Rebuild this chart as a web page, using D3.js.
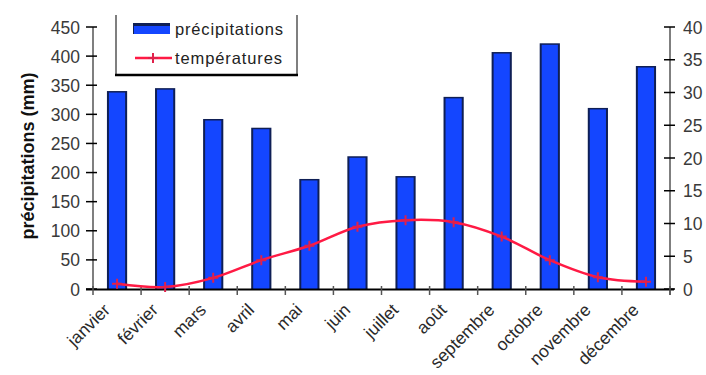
<!DOCTYPE html>
<html><head><meta charset="utf-8">
<script src="https://cdn.jsdelivr.net/npm/d3@7"></script>
<style>body{margin:0;background:#fff}svg{display:block}text{font-family:"Liberation Sans",Arial,sans-serif}</style>
</head><body><svg id="c" width="706" height="375"></svg>
<script>
const months = ["janvier","février","mars","avril","mai","juin","juillet","août","septembre","octobre","novembre","décembre"];
const precipitations = [340,345,292,277,189,228,194,330,407,422,311,383];
const temperatures = [0.8,0.3,1.7,4.4,6.6,9.5,10.5,10.2,8.0,4.4,1.8,1.1];
const leftTicks = [0,50,100,150,200,250,300,350,400,450];
const rightTicks = [0,5,10,15,20,25,30,35,40];

const svg = d3.select("#c");
const x0 = 93, x1 = 670, yTop = 27, yBot = 289;
const x = d3.scaleBand().domain(months).range([x0, x1]).paddingInner(0.58).paddingOuter(0.29);
const xc = d => x(d) + x.bandwidth()/2;
const yL = d3.scaleLinear().domain([0,450]).range([yBot, yTop]);
const yR = d3.scaleLinear().domain([0,40]).range([yBot, yTop]);

// bars
svg.append("g").selectAll("g").data(months).join("g").each(function(m,i){
  const g = d3.select(this);
  const bx = x(m), bw = x.bandwidth(), by = yL(precipitations[i]);
  g.append("rect").attr("x",bx).attr("y",by).attr("width",bw).attr("height",yBot-by).attr("fill","#0f1f55");
  g.append("rect").attr("x",bx+2).attr("y",by+1.5).attr("width",bw-4).attr("height",yBot-by-1.5).attr("fill","#1446ff");
});

// left axis
const gl = svg.append("g");
gl.append("line").attr("x1",x0).attr("x2",x0).attr("y1",yTop).attr("y2",yBot).attr("stroke","#555").attr("stroke-width",1.5);
gl.selectAll("line.t").data(leftTicks).join("line").attr("class","t")
  .attr("x1",x0-7).attr("x2",x0+4).attr("y1",d=>yL(d)).attr("y2",d=>yL(d)).attr("stroke","#000").attr("stroke-width",1.5);
gl.selectAll("text").data(leftTicks).join("text").attr("x",80).attr("y",d=>yL(d)+6.5)
  .attr("text-anchor","end").attr("font-size",17.5).attr("fill","#3a3a3a").text(d=>d);

// right axis
const gr = svg.append("g");
gr.append("line").attr("x1",x1).attr("x2",x1).attr("y1",yTop).attr("y2",yBot+6).attr("stroke","#555").attr("stroke-width",1.5);
gr.selectAll("line.t").data(rightTicks).join("line").attr("class","t")
  .attr("x1",x1-6).attr("x2",x1+5).attr("y1",d=>yR(d)).attr("y2",d=>yR(d)).attr("stroke","#000").attr("stroke-width",1.5);
gr.selectAll("text").data(rightTicks).join("text").attr("x",683).attr("y",d=>yR(d)+6.5)
  .attr("text-anchor","start").attr("font-size",17.5).attr("fill","#3a3a3a").text(d=>d);

// bottom axis
const gb = svg.append("g");
gb.append("line").attr("x1",x0-7).attr("x2",x1+4).attr("y1",yBot+0.5).attr("y2",yBot+0.5).attr("stroke","#000").attr("stroke-width",2);
const bounds = months.map(m => x(m) - x.step()*x.paddingInner()/2 ).concat([x1]);
gb.selectAll("line.t").data(bounds).join("line").attr("class","t")
  .attr("x1",d=>d).attr("x2",d=>d).attr("y1",yBot-3).attr("y2",yBot+6).attr("stroke","#555").attr("stroke-width",1.5);
gb.selectAll("text").data(months).join("text")
  .attr("transform",d=>`translate(${xc(d)-6},${yBot+22}) rotate(-45)`)
  .attr("text-anchor","end").attr("font-size",17.5).attr("fill","#2a2a2a").text(d=>d);

// temperature line
const line = d3.line().x((d,i)=>xc(months[i])).y(d=>yR(d)).curve(d3.curveCatmullRom);
svg.append("path").attr("d",line(temperatures)).attr("fill","none").attr("stroke","#ff1a44").attr("stroke-width",2.5);
svg.append("g").selectAll("path").data(temperatures).join("path")
  .attr("d",(d,i)=>{const cx=xc(months[i]),cy=yR(d);return `M${cx-5},${cy}H${cx+5}M${cx},${cy-5}V${cy+5}`;})
  .attr("stroke","#e0204a").attr("stroke-width",2);

// axis title
svg.append("text").attr("transform","translate(34,156) rotate(-90)").attr("text-anchor","middle")
  .attr("font-size",18).attr("font-weight","bold").attr("fill","#111").text("précipitations (mm)");

// legend
const lg = svg.append("g");
lg.append("line").attr("x1",116).attr("x2",116).attr("y1",15).attr("y2",75).attr("stroke","#555").attr("stroke-width",1.5);
lg.append("line").attr("x1",297).attr("x2",297).attr("y1",15).attr("y2",75).attr("stroke","#555").attr("stroke-width",1.5);
lg.append("line").attr("x1",115).attr("x2",298).attr("y1",75).attr("y2",75).attr("stroke","#000").attr("stroke-width",2.5);
lg.append("rect").attr("x",133).attr("y",23).attr("width",37).attr("height",11).attr("fill","#0f1f55");
lg.append("rect").attr("x",134).attr("y",26).attr("width",36).attr("height",8).attr("fill","#1446ff");
lg.append("text").attr("x",175).attr("y",35).attr("font-size",16.5).attr("fill","#222").attr("textLength",108).text("précipitations");
lg.append("line").attr("x1",135).attr("x2",172).attr("y1",58).attr("y2",58).attr("stroke","#ff1a44").attr("stroke-width",2.5);
lg.append("path").attr("d","M148,58H158M153,53V63").attr("stroke","#e0204a").attr("stroke-width",2);
lg.append("text").attr("x",175).attr("y",64).attr("font-size",16.5).attr("fill","#222").attr("textLength",107).text("températures");
</script></body></html>
